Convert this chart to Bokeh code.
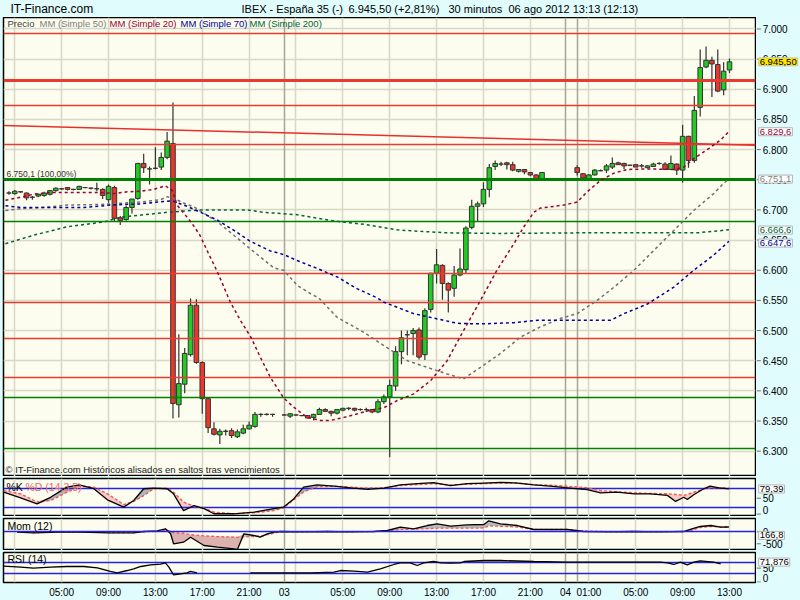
import numpy as np
from bokeh.plotting import figure
from bokeh.models import Range1d, FixedTicker, Label
from bokeh.layouts import column, row
from bokeh.core.properties import value
from bokeh.embed import file_html
from bokeh.resources import INLINE

# ---------------- data ----------------
# 30-minute bars; x = bar slot index
bar_k = list(range(0, 46)) + list(range(47, 92)) + list(range(97, 124))
bar_open = [6728, 6727, 6730, 6728, 6721, 6723, 6724, 6726, 6732, 6735,
            6737, 6734, 6734, 6737, 6736, 6735, 6734, 6717, 6737, 6687,
            6684, 6704, 6719, 6777, 6768, 6769, 6771, 6787, 6810, 6377,
            6411, 6460, 6542, 6447, 6387, 6337, 6327, 6333, 6334, 6324,
            6330, 6337, 6341, 6361, 6361, 6361,
            6360, 6358, 6360, 6359, 6359, 6356, 6361, 6369, 6366, 6363,
            6368, 6371, 6371, 6369, 6369, 6369, 6365, 6382, 6390, 6408,
            6465, 6493, 6495, 6501, 6460, 6535, 6595, 6608, 6578, 6570,
            6592, 6601, 6671, 6706, 6710, 6734, 6772, 6776, 6778, 6775,
            6764, 6767, 6762, 6758, 6750,
            6770, 6760, 6752, 6758, 6765, 6766, 6771, 6778, 6777, 6774,
            6775, 6773, 6770, 6772, 6777, 6776, 6767, 6776, 6766, 6822,
            6782, 6870, 6937, 6948, 6941, 6899, 6932]
bar_high = [6731, 6733, 6731, 6729, 6723, 6727, 6730, 6733, 6737, 6736,
            6738, 6735, 6740, 6738, 6737, 6745, 6736, 6742, 6740, 6690,
            6707, 6718, 6778, 6793, 6772, 6804, 6795, 6829, 6878, 6494,
            6471, 6553, 6552, 6449, 6389, 6348, 6337, 6336, 6338, 6336,
            6344, 6349, 6365, 6363, 6363, 6362,
            6361, 6363, 6361, 6360, 6360, 6362, 6372, 6371, 6367, 6370,
            6372, 6373, 6372, 6371, 6372, 6370, 6386, 6394, 6419, 6474,
            6500, 6500, 6504, 6505, 6537, 6596, 6635, 6610, 6580, 6607,
            6636, 6673, 6717, 6714, 6746, 6776, 6782, 6780, 6780, 6780,
            6767, 6768, 6763, 6759, 6763,
            6774, 6761, 6759, 6768, 6767, 6776, 6787, 6780, 6778, 6775,
            6776, 6776, 6774, 6778, 6779, 6779, 6790, 6777, 6841, 6823,
            6889, 6966, 6971, 6954, 6966, 6945, 6951]
bar_low = [6725, 6725, 6728, 6716, 6717, 6721, 6722, 6724, 6730, 6733,
           6732, 6732, 6733, 6736, 6734, 6731, 6718, 6712, 6681, 6675,
           6682, 6694, 6717, 6761, 6742, 6767, 6766, 6784, 6354, 6356,
           6396, 6457, 6445, 6362, 6330, 6326, 6312, 6326, 6322, 6322,
           6328, 6336, 6339, 6357, 6359, 6357,
           6359, 6355, 6359, 6358, 6354, 6351, 6360, 6365, 6358, 6361,
           6366, 6368, 6366, 6367, 6365, 6363, 6363, 6378, 6290, 6400,
           6444, 6459, 6459, 6452, 6451, 6530, 6578, 6551, 6530, 6556,
           6590, 6594, 6668, 6681, 6705, 6721, 6766, 6773, 6767, 6764,
           6762, 6759, 6756, 6749, 6749,
           6757, 6752, 6750, 6757, 6764, 6761, 6768, 6775, 6768, 6773,
           6771, 6770, 6769, 6771, 6775, 6766, 6766, 6758, 6745, 6770,
           6778, 6855, 6935, 6887, 6895, 6890, 6927]
bar_close = [6728, 6731, 6730, 6720, 6721, 6726, 6728, 6732, 6736, 6735,
             6734, 6734, 6739, 6737, 6736, 6735, 6724, 6739, 6686, 6682,
             6704, 6718, 6777, 6770, 6768, 6769, 6787, 6814, 6379, 6412,
             6462, 6542, 6447, 6387, 6339, 6328, 6333, 6333, 6326, 6332,
             6337, 6343, 6361, 6361, 6361, 6361,
             6360, 6362, 6360, 6359, 6355, 6361, 6369, 6366, 6363, 6369,
             6371, 6371, 6368, 6369, 6369, 6365, 6382, 6390, 6409, 6465,
             6488, 6493, 6500, 6456, 6533, 6595, 6609, 6578, 6567, 6592,
             6602, 6670, 6706, 6710, 6734, 6770, 6777, 6776, 6775, 6766,
             6767, 6763, 6758, 6752, 6762,
             6762, 6753, 6758, 6766, 6765, 6773, 6777, 6775, 6773, 6774,
             6771, 6773, 6773, 6776, 6777, 6767, 6777, 6766, 6822, 6782,
             6865, 6936, 6948, 6942, 6897, 6930, 6945.5]

# moving averages
ma20_x = [-0.6, 2, 4.2, 7.1, 15.6, 17.9, 20.2, 22.5, 24.7, 26.7, 27.9, 28.7, 30.4, 31.3, 32.6,
          34.1, 35.5, 37.8, 39.5, 41.3, 42.9, 44.6, 46.9, 48.6, 50.9, 53.2, 54.9, 57.2, 59.5,
          61.7, 64, 66.3, 69.1, 72, 74.8, 77.6, 80.5, 83.3, 86.2, 87.9, 89.6, 90.7, 94.7, 97,
          98.7, 101, 103.3, 105.5, 109, 113.5, 115.2, 116.9, 119.5, 121.5, 122.9]
ma20_y = [6716, 6721, 6726, 6729, 6729, 6727, 6730, 6731, 6734, 6740, 6732, 6708, 6688, 6677, 6658,
          6627, 6599, 6547, 6517, 6489, 6456, 6423, 6388, 6373, 6356, 6351, 6351, 6356, 6362,
          6368, 6372, 6384, 6395, 6417, 6450, 6500, 6550, 6600, 6644, 6672, 6696, 6703, 6708, 6713,
          6730, 6749, 6761, 6767, 6768, 6767, 6771, 6785, 6802, 6816, 6830]
ma50_x = [-0.6, 2, 7.1, 9.9, 15.6, 22.5, 25.9, 27, 28.1, 30.4, 31.6, 35.6, 38.4, 41.5, 45.2, 46.9,
          49.2, 51.5, 52.9, 56, 60.6, 64, 68, 72, 74.8, 77.6, 80.5, 83.9, 87.3, 90.7, 94.1, 97,
          100.4, 103.3, 106.7, 110.1, 113.5, 116.9, 120.3, 122, 122.9]
ma50_y = [6699, 6702, 6705, 6708, 6709, 6713, 6717, 6722, 6719, 6709, 6705, 6680, 6658, 6633, 6604, 6600,
          6575, 6561, 6554, 6522, 6497, 6475, 6450, 6437, 6428, 6420, 6439, 6462, 6489, 6506, 6520, 6528,
          6550, 6572, 6600, 6633, 6666, 6699, 6727, 6744, 6751]
ma70_x = [-0.6, 2, 7.1, 12.8, 17.3, 22.5, 26.4, 27.9, 30.4, 32.7, 35.6, 38.4, 41.2, 44.6, 46.9, 49.2,
          52.6, 56, 59.5, 62.9, 64, 69.1, 76.5, 80.5, 86.2, 90.2, 94.7, 102.7, 105, 109, 113.5,
          116.9, 120.3, 122, 122.9]
ma70_y = [6707, 6704, 6704, 6704, 6708, 6710, 6714, 6715, 6706, 6696, 6683, 6666, 6648, 6632, 6626, 6616,
          6603, 6589, 6569, 6554, 6547, 6528, 6512, 6511, 6513, 6517, 6517, 6517, 6528, 6544, 6572,
          6600, 6625, 6640, 6648]
ma200_x = [-0.6, 4.2, 9.9, 16.2, 19.1, 27, 32.7, 40.7, 43.5, 49.2, 56, 60.6, 66.3, 69.1, 74.8, 83.3,
           97.6, 109, 117.5, 122.9]
ma200_y = [6644, 6658, 6672, 6680, 6688, 6696, 6700, 6700, 6696, 6692, 6681, 6676, 6667, 6665, 6662, 6661,
           6662, 6662, 6662, 6667]

# support / resistance lines and trendline
red_levels = [6993, 6873, 6808, 6594, 6547, 6486, 6422]
red_main = [6915]
green_levels = [6681, 6389, 6304]
green_main = [6750.1]
trend_x = [-0.93, 127.44]
trend_y = [6840, 6807]

# stochastic %K / %D (14,3,5)
sto_x = [-0.9, 2, 4.8, 7.1, 9.9, 12, 14.5, 16.8, 19.6, 21.3, 23, 24.7, 27, 28.1, 29.8, 31.6, 33.3, 35,
         38.4, 41.8, 45.2, 46.9, 48.6, 50.3, 52.6, 55.5, 58.3, 61.2, 64, 66.8, 69.7, 72.5, 75.4, 78.2,
         81.1, 83.9, 86.8, 89.6, 92.4, 95.3, 98.7, 101, 103.8, 106.7, 109.5, 112.4, 113.8, 115.2,
         115.8, 116.9, 118.6, 119.7, 121.2, 122.9]
sto_k = [69, 51, 32, 53, 85, 92, 80, 45, 22, 43, 80, 82, 80, 64, 11, 27, 17, 1, 1, 6, 17, 22, 48, 85, 92,
         88, 83, 78, 82, 92, 96, 99, 90, 96, 98, 100, 98, 92, 88, 83, 77, 67, 69, 64, 64, 59, 40, 53,
         46, 61, 80, 88, 83, 79.4]
sto_d = [74, 64, 38, 43, 69, 88, 85, 64, 30, 40, 58, 80, 82, 69, 38, 24, 19, 6, 1, 4, 11, 20, 45, 70, 86,
         88, 85, 82, 83, 90, 93, 96, 92, 94, 96, 98, 98, 93, 91, 88, 83, 74, 70, 67, 65, 64, 62, 59,
         62, 69, 79, 83, 83, 82]

# momentum (12) and its signal
mom_x = [1.4, 4.2, 10, 17.3, 21.3, 23, 25.3, 26.7, 27.6, 28.1, 29.8, 31, 33.3, 35.6, 38.4, 39, 40.1,
         41.8, 42.9, 44.1, 45.2, 46.4, 50, 54.3, 58, 62.3, 64.6, 66.8, 69.1, 71.4, 73.1, 75.4, 78.2,
         81.1, 81.9, 83.9, 86.8, 89.6, 92.4, 95.3, 98.1, 102, 106.7, 111, 115.2, 116.3, 118, 119.8,
         121.5, 122.9]
mom_v = [-16, -42, 0, -42, -42, 12, 42, 125, -83, -500, -433, -225, -571, -642, -708, -737, -83,
         -154, -225, -83, -16, 12, 0, 12, 0, 12, 54, 192, 125, 262, 333, 233, 292,
         304, 458, 333, 262, 96, 96, 96, 12, 0, 12, 0, 12, 96, 221, 262,
         192, 200]
mom_s = [-10, -30, -20, -30, -30, 0, 20, 60, 40, -40, -60, -120, -170, -200, -220, -230, -210,
         -200, -180, -120, -60, 0, 0, 12, 0, 12, 30, 100, 110, 130, 150, 150, 150,
         160, 250, 230, 200, 100, 96, 96, 40, 10, 12, 5, 12, 40, 180, 220,
         200, 200]

# RSI (14)
rsi_x = [-0.9, 2, 4.2, 7.1, 9.9, 12.8, 15.1, 17.3, 18.5, 20.2, 21.3, 22.5, 24.2, 25.9, 26.7, 27.3,
         28.1, 29.3, 30.4, 31, 32.1, 36, 41.2, 51.5, 55.5, 56.6, 58.9, 61.2, 63.4, 65.7, 66.8, 68.5,
         69.7, 70.8, 72.5, 73.7, 75.4, 77.1, 77.7, 81.1, 83.9, 89.6, 95.3, 97.6, 106.7, 111.2, 112.4,
         113.5, 114.6, 115.8, 116.9, 118, 120.3, 121.5]
rsi_v = [57, 53.4, 49.8, 53.4, 56, 56, 51.3, 38, 33.2, 41.5, 47.6, 56, 62, 64.3, 69.3, 53.4,
         26, 29.6, 33.2, 38, 33.2, np.nan, 33.2, 33.2, 35.4, 41.5, 39, 35.4, 47.6, 63.2, 69.3, 69.3,
         59.6, 69.3, 74, 69.3, 68, 69.3, 74, 77.6, 77.6, 74, 71.5, 71.5, 71.5, 71.5, 69.3,
         63.2, 71.5, 62, 71.5, 76.5, 71.5, 65.7]

price_ticks = [6300, 6350, 6400, 6450, 6500, 6550, 6600, 6650, 6700, 6750, 6800, 6850, 6900, 6950, 7000]
price_labels = ["6.300", "6.350", "6.400", "6.450", "6.500", "6.550", "6.600", "6.650", "6.700",
                "6.750", "6.800", "6.850", "6.900", "6.950", "7.000"]
grid_k = [1, 9, 17, 25, 33, 41, 49, 57, 65, 73, 81, 89, 99, 107, 115, 123]
sep_k = [47, 95, 97]
label_k = [9, 17, 25, 33, 41, 47, 57, 65, 73, 81, 89, 95, 99, 107, 115, 123]
label_txt = ["05:00", "09:00", "13:00", "17:00", "21:00", "03", "05:00", "09:00", "13:00", "17:00",
             "21:00", "04", "01:00", "05:00", "09:00", "13:00"]

# ---------------- style ----------------
FONT = "Liberation Sans"
BG = "#E0FCFC"
PANEL = "#FCFCEF"
GRID = "#D8D8C6"
SEP = "#A6A696"
FW = 752
RW = 44
H_TITLE, H_MAIN, H_STO, H_MOM, H_RSI = 17, 459, 38, 32, 30
xr = Range1d(-0.93, 127.44)


def base(fh, yr, top, bottom, xaxis=False):
    p = figure(frame_width=FW, frame_height=fh, x_range=xr, y_range=yr,
               output_backend="svg", toolbar_location=None,
               x_axis_location="below" if xaxis else None, y_axis_location=None,
               min_border=0, min_border_left=3, min_border_right=1,
               min_border_top=top, min_border_bottom=bottom,
               background_fill_color=PANEL, border_fill_color=BG,
               outline_line_color="black", outline_line_width=1.5)
    p.xgrid.ticker = FixedTicker(ticks=grid_k)
    p.xgrid.grid_line_color = GRID
    p.xgrid.grid_line_width = 1.5
    p.ygrid.grid_line_color = None
    p.vspan(x=sep_k, line_color=SEP, line_width=1.5)
    return p


def side(fh, yr, top, bottom):
    q = figure(frame_width=RW, frame_height=fh, x_range=Range1d(0, 1), y_range=yr,
               output_backend="svg", toolbar_location=None,
               x_axis_location=None, y_axis_location=None,
               min_border=0, min_border_top=top, min_border_bottom=bottom,
               background_fill_color=BG, border_fill_color=BG, outline_line_color=None)
    q.xgrid.visible = False
    q.ygrid.visible = False
    return q


def ticks(q, vals, labels, baseline="middle"):
    q.segment(x0=0, y0=vals, x1=0.1, y1=vals, line_color="#707070", line_width=1)
    q.text(x=0.14, y=vals, text=labels, text_color="black", text_font=value(FONT),
           text_font_size=value("10px"), text_baseline=value(baseline), text_align=value("left"))


def lab(p, x, y, text, color="black", size="10px", yu="screen", xu="screen", **kw):
    p.add_layout(Label(x=x, y=y, x_units=xu, y_units=yu, text=text, text_color=color,
                       text_font=FONT, text_font_size=size, text_baseline="middle", **kw))


def box(q, y, text, color, fill="white", border="#B4B4B4"):
    q.add_layout(Label(x=0.05, y=y, x_units="data", y_units="data", text=text,
                       text_color=color, text_font=FONT, text_font_size="9.5px",
                       text_baseline="middle", background_fill_color=fill,
                       border_line_color=border, padding=1))


# ---------------- title band ----------------
pt = figure(frame_width=FW + 4 + RW, frame_height=H_TITLE, x_range=Range1d(0, 1), y_range=Range1d(0, 1),
            output_backend="svg", toolbar_location=None, x_axis_location=None, y_axis_location=None,
            min_border=0, background_fill_color=BG, border_fill_color=BG, outline_line_color=None)
pt.xgrid.visible = False
pt.ygrid.visible = False
lab(pt, 10, 9, "IT-Finance.com", size="12px")
lab(pt, 241, 9, "IBEX - España 35 (-)", size="11px")
lab(pt, 348, 9, "6.945,50 (+2,81%)", size="11px")
lab(pt, 448, 9, "30 minutos", size="11px")
lab(pt, 508, 9, "06 ago 2012 13:13 (12:13)", size="11px")

# ---------------- main price panel ----------------
pm = base(H_MAIN, Range1d(6258, 7019), 0, 0)
pm.ygrid.ticker = FixedTicker(ticks=price_ticks)
pm.ygrid.grid_line_color = GRID
pm.ygrid.grid_line_width = 1.5

o = np.array(bar_open, float)
c = np.array(bar_close, float)
cols = ["#22CC22" if cc >= oo else "#E8382C" for oo, cc in zip(o, c)]
pm.segment(x0=bar_k, y0=bar_low, x1=bar_k, y1=bar_high, line_color="#333333", line_width=1.2)
pm.vbar(x=bar_k, top=np.maximum(o, c), bottom=np.minimum(o, c), width=0.78,
        fill_color=cols, line_color="#333333", line_width=1)

pm.hspan(y=red_levels, line_color="#E83A2E", line_width=1.3)
pm.hspan(y=red_main, line_color="#E83A2E", line_width=3)
pm.hspan(y=green_levels, line_color="#008000", line_width=1.5)
pm.hspan(y=green_main, line_color="#008000", line_width=3)
pm.line(trend_x, trend_y, line_color="#E8302A", line_width=1.5)

pm.line(ma200_x, ma200_y, line_color="#006633", line_width=1.5, line_dash="3 3")
pm.line(ma50_x, ma50_y, line_color="#707070", line_width=1.5, line_dash="3 3")
pm.line(ma70_x, ma70_y, line_color="#000099", line_width=1.5, line_dash="3 3")
pm.line(ma20_x, ma20_y, line_color="#990033", line_width=1.5, line_dash="3 3")

lab(pm, 4, H_MAIN - 6, "Precio", color="#404040", size="9.5px")
lab(pm, 36, H_MAIN - 6, "MM (Simple 50)", color="#808080", size="9.5px")
lab(pm, 106, H_MAIN - 6, "MM (Simple 20)", color="#990033", size="9.5px")
lab(pm, 177, H_MAIN - 6, "MM (Simple 70)", color="#000099", size="9.5px")
lab(pm, 246, H_MAIN - 6, "MM (Simple 200)", color="#006633", size="9.5px")
lab(pm, 2, 7, "© IT-Finance.com  Históricos alisados en saltos tras vencimientos",
    color="#202020", size="9.5px")
lab(pm, 3, 6750.1, "6.750,1 (100,00%)", color="#333333", size="8.5px", yu="data", y_offset=6)

qm = side(H_MAIN, pm.y_range, 0, 0)
ticks(qm, price_ticks, price_labels)
box(qm, 6945.5, "6.945,50", "black", fill="#FFE600", border="#C8C8A0")
box(qm, 6829.6, "6.829,6", "#990033")
box(qm, 6751.1, "6.751,1", "#808080")
box(qm, 6666.6, "6.666,6", "#006633")
box(qm, 6645.0, "6.647,6", "#000099")

# ---------------- stochastic ----------------
ps = base(H_STO, Range1d(-7.6, 112.3), 2, 0)
sk = np.array(sto_k, float)
sd = np.array(sto_d, float)
ps.varea(x=sto_x, y1=sd, y2=np.maximum(sk, sd), fill_color="#AEB6BE")
ps.varea(x=sto_x, y1=np.minimum(sk, sd), y2=sd, fill_color="#F6C8C6")
ps.hspan(y=[20, 80], line_color="#2424E0", line_width=1.5)
ps.line(sto_x, sto_d, line_color="#F05A50", line_width=1.4, line_dash="3 2")
ps.line(sto_x, sto_k, line_color="black", line_width=1.3)
lab(ps, 3, H_STO - 8, "%K", size="10.5px")
lab(ps, 22, H_STO - 8, "%D (14,3,5)", color="#F06A60", size="10.5px")
qs = side(H_STO, ps.y_range, 2, 0)
ticks(qs, [50], ["50"])
ticks(qs, [0], ["0"], baseline="bottom")
box(qs, 79.39, "79,39", "black")

# ---------------- momentum ----------------
pmo = base(H_MOM, Range1d(-779, 554), 2, 0)
mv = np.array(mom_v, float)
ms = np.array(mom_s, float)
pmo.varea(x=mom_x, y1=ms, y2=np.maximum(mv, ms), fill_color="#B4BCC2")
pmo.varea(x=mom_x, y1=np.minimum(mv, ms), y2=ms, fill_color="#DDB2AE")
pmo.line(mom_x, mom_s, line_color="#F05A50", line_width=1.3, line_dash="3 2")
pmo.line(mom_x, mom_v, line_color="black", line_width=1.3)
pmo.hspan(y=[0], line_color="#2424E0", line_width=1.5)
lab(pmo, 4, H_MOM - 7, "Mom (12)", size="10.5px")
qmo = side(H_MOM, pmo.y_range, 2, 0)
ticks(qmo, [0, -500], ["0", "-500"])
box(qmo, -150, "166,8", "black")

# ---------------- RSI ----------------
pr = base(H_RSI, Range1d(-1.8, 106.5), 2, 18, xaxis=True)
rv = np.array(rsi_v, float)
pr.varea(x=rsi_x, y1=70, y2=np.fmax(rv, 70), fill_color="#C9A8A0")
pr.hspan(y=[30, 70], line_color="#2424E0", line_width=1.5)
pr.line(rsi_x, rsi_v, line_color="black", line_width=1.3)
lab(pr, 4, H_RSI - 6, "RSI (14)", size="10.5px")
xa = pr.xaxis[0]
xa.ticker = FixedTicker(ticks=label_k)
xa.major_label_overrides = dict(zip(label_k, label_txt))
xa.axis_line_color = None
xa.major_tick_line_color = None
xa.minor_tick_line_color = None
xa.major_tick_out = 0
xa.major_tick_in = 0
xa.minor_tick_out = 0
xa.minor_tick_in = 0
xa.major_label_standoff = 4
xa.major_label_text_font = FONT
xa.major_label_text_font_size = "10px"
xa.major_label_text_color = "black"
qr = side(H_RSI, pr.y_range, 2, 18)
ticks(qr, [50], ["50"])
ticks(qr, [0], ["0"], baseline="bottom")
box(qr, 71.876, "71,876", "black")

layout = column(pt, row(pm, qm), row(ps, qs), row(pmo, qmo), row(pr, qr),
                spacing=0, background=BG)
open("out.html", "w").write(file_html(layout, INLINE))
